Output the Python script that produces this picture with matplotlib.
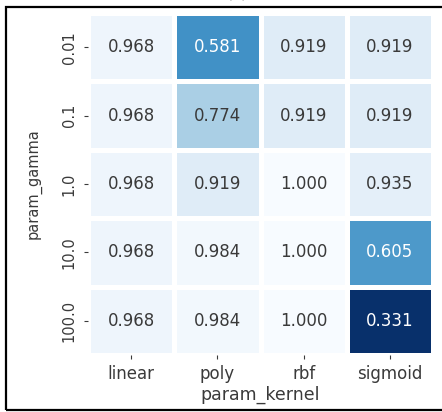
import numpy as np
import pandas as pd
import seaborn as sns
import matplotlib
matplotlib.use('Agg')
import matplotlib.pyplot as plt
from matplotlib.patches import Rectangle

kernels = ['linear', 'poly', 'rbf', 'sigmoid']
gammas = ['0.01', '0.1', '1.0', '10.0', '100.0']
linear = [0.968, 0.968, 0.968, 0.968, 0.968]
poly = [0.581, 0.774, 0.919, 0.984, 0.984]
rbf = [0.919, 0.919, 1.000, 1.000, 1.000]
sigmoid = [0.919, 0.919, 0.935, 0.605, 0.331]

df = pd.DataFrame({'linear': linear, 'poly': poly, 'rbf': rbf, 'sigmoid': sigmoid}, index=gammas)
df.index.name = 'param_gamma'
df.columns.name = 'param_kernel'

txt = '#3a3a3a'

fig = plt.figure(figsize=(4.42, 4.12), dpi=100)
ax = fig.add_axes([88 / 442, 1 - 355 / 412, 345 / 442, 342 / 412])
sns.heatmap(df, annot=True, fmt='.3f', cmap='Blues_r', cbar=False,
            linewidths=2.5, linecolor='white', ax=ax,
            annot_kws={'fontsize': 12})
for t in ax.texts:
    if t.get_color() != 'w' and t.get_color() != 'white':
        t.set_color(txt)

ax.tick_params(axis='x', labelsize=12, colors=txt, length=3, pad=4)
ax.tick_params(axis='y', labelsize=10.5, colors=txt, length=3, pad=5)
ax.set_xlabel('param_kernel', fontsize=12.5, color=txt, labelpad=2)
ax.set_ylabel('param_gamma', fontsize=10.5, color=txt)
ax.yaxis.set_label_coords(-0.135, 0.5)
for t in ax.get_yticklabels():
    t.set_rotation(90)
    t.set_va('center')

# partial title cut off at the top of the screenshot
fig.text(237 / 442, 1.0 - 1 / 412, '(a)', ha='center', va='bottom', fontsize=11, color='#777777')

# black frame around the figure
fig.patches.append(Rectangle((6 / 442, 2 / 412), 440 / 442, 403 / 412,
                             transform=fig.transFigure, fill=False,
                             edgecolor='black', linewidth=1.6))

plt.savefig('out.png', dpi=100)
